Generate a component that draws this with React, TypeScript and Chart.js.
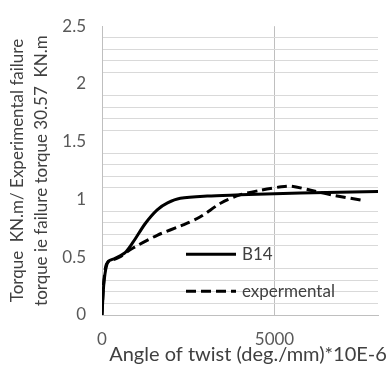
import React, { useEffect, useRef } from "react";
import { Chart, registerables } from "chart.js";

Chart.register(...registerables);

// Twist angle (deg./mm * 10E-6) vs normalised torque
const b14Angle = [0, 60, 170, 380, 670, 900, 1250, 1600, 1900, 2270, 3050, 4000, 5000, 6500, 8000];
const b14Torque = [0, 0.29, 0.46, 0.49, 0.54, 0.63, 0.79, 0.91, 0.97, 1.01, 1.03, 1.04, 1.05, 1.06, 1.07];

const expAngle = [0, 40, 80, 150, 500, 900, 1600, 2350, 2850, 3450, 4000, 4600, 5200, 5500, 6050, 6650, 7600];
const expTorque = [0, 0.25, 0.36, 0.45, 0.5, 0.58, 0.69, 0.78, 0.85, 0.97, 1.04, 1.08, 1.11, 1.115, 1.08, 1.04, 0.99];

const xTicks = [0, 5000];
const seriesNames = ["B14", "expermental"];
const xTitle = "Angle of twist (deg./mm)*10E-6";
const yTitle = ["Torque  KN.m/ Experimental failure", "torque ie failure torque 30.57  KN.m"];

const FONT = "Lato, 'Open Sans', sans-serif";
const isHalf = (v: number) => Math.abs(v * 2 - Math.round(v * 2)) < 1e-6;

// Legend drawn inside the plot area, plus the x-axis caption
const annotations = {
  id: "annotations",
  afterDraw(chart: any) {
    const { ctx, chartArea } = chart;
    ctx.save();
    chart.data.datasets.forEach((ds: any, i: number) => {
      const y = chartArea.top + 228 + i * 37;
      const x0 = chartArea.left + 84;
      ctx.beginPath();
      ctx.setLineDash(ds.borderDash || []);
      ctx.lineWidth = ds.borderWidth;
      ctx.strokeStyle = ds.borderColor;
      ctx.moveTo(x0, y);
      ctx.lineTo(x0 + 50, y);
      ctx.stroke();
      ctx.setLineDash([]);
      ctx.fillStyle = "#404040";
      ctx.font = `17px ${FONT}`;
      ctx.textBaseline = "middle";
      ctx.textAlign = "left";
      ctx.fillText(ds.label, x0 + 56, y);
    });
    ctx.fillStyle = "#404040";
    ctx.font = `20px ${FONT}`;
    ctx.textAlign = "center";
    ctx.textBaseline = "middle";
    ctx.fillText(xTitle, (chartArea.left + chartArea.right) / 2 + 8, chartArea.bottom + 40);
    ctx.restore();
  },
};

export default function App() {
  const ref = useRef<HTMLCanvasElement>(null);

  useEffect(() => {
    if (!ref.current) return;
    const chart = new Chart(ref.current, {
      type: "line",
      data: {
        datasets: [
          {
            label: seriesNames[0],
            data: b14Angle.map((x, i) => ({ x, y: b14Torque[i] })),
            borderColor: "#000000",
            borderWidth: 3,
            pointRadius: 0,
            tension: 0.3,
          },
          {
            label: seriesNames[1],
            data: expAngle.map((x, i) => ({ x, y: expTorque[i] })),
            borderColor: "#000000",
            borderWidth: 3,
            borderDash: [10, 5],
            pointRadius: 0,
            tension: 0.3,
          },
        ],
      },
      options: {
        animation: false,
        responsive: false,
        layout: { padding: { top: 17, right: 10, left: 0, bottom: 0 } },
        plugins: { legend: { display: false }, tooltip: { enabled: false } },
        scales: {
          x: {
            type: "linear",
            min: 0,
            max: 8000,
            afterBuildTicks: (s: any) => {
              s.ticks = xTicks.map((value) => ({ value }));
            },
            afterFit: (s: any) => {
              s.height = 54;
            },
            ticks: {
              padding: 14,
              color: "#595959",
              font: { family: FONT, size: 17 },
              maxRotation: 0,
              autoSkip: false,
              callback: (v: any) => String(v),
            },
            grid: {
              drawTicks: false,
              lineWidth: 1,
              color: (c: any) => (c.tick && c.tick.value === 0 ? "rgba(0,0,0,0)" : "#bfbfbf"),
            },
            border: { display: true, color: "#bfbfbf", width: 1 },
          },
          y: {
            type: "linear",
            min: 0,
            max: 2.5,
            afterFit: (s: any) => {
              s.width = 102;
            },
            ticks: {
              stepSize: 0.1,
              padding: 16,
              color: "#595959",
              font: { family: FONT, size: 17 },
              autoSkip: false,
              callback: (v: any) => (isHalf(Number(v)) ? String(Math.round(Number(v) * 10) / 10) : ""),
            },
            grid: {
              drawTicks: false,
              lineWidth: 1,
              color: (c: any) => (c.tick && isHalf(c.tick.value) ? "rgba(0,0,0,0)" : "#d9d9d9"),
            },
            border: { display: true, color: "#bfbfbf", width: 1 },
            title: {
              display: true,
              text: yTitle,
              color: "#404040",
              font: { family: FONT, size: 17, lineHeight: 1.45 },
              padding: { top: 5, bottom: 0 },
            },
          },
        },
      },
      plugins: [annotations],
    });
    return () => chart.destroy();
  }, []);

  return (
    <div style={{ position: "fixed", left: 0, top: 0, width: 388, height: 369, background: "#ffffff" }}>
      <canvas ref={ref} width={388} height={369} />
    </div>
  );
}
